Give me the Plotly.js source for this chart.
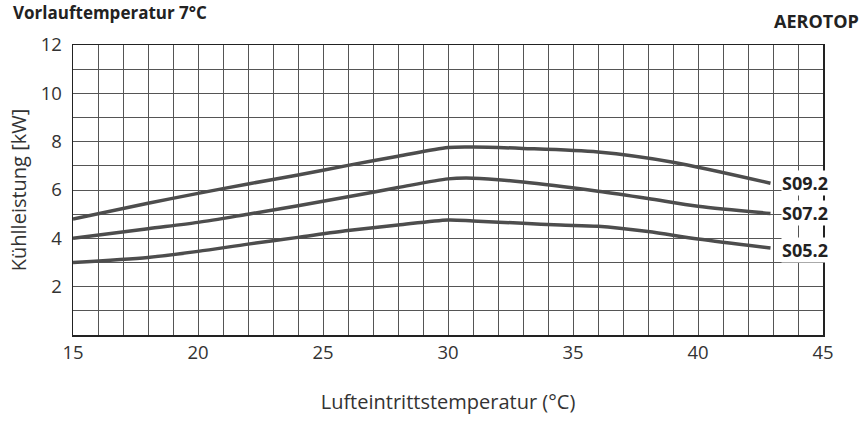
<!DOCTYPE html>
<html>
<head>
<meta charset="utf-8">
<script src="https://cdn.plot.ly/plotly-3.0.1.min.js"></script>
<style>html,body{margin:0;padding:0;background:#fff;}#chart{width:865px;height:422px;}</style>
</head>
<body>
<div id="chart"></div>
<script>
// Data
const tempS09 = [15, 18, 20, 22, 24, 26, 28, 30, 31, 33, 36, 39, 42.9];
const kwS09   = [4.8, 5.45, 5.86, 6.25, 6.62, 7.02, 7.4, 7.76, 7.78, 7.72, 7.57, 7.15, 6.28];
const tempS07 = [15, 18, 20, 22, 24, 26, 28, 30, 31, 33, 36, 38, 40, 42.9];
const kwS07   = [4.0, 4.4, 4.66, 5.0, 5.35, 5.72, 6.1, 6.46, 6.49, 6.33, 5.95, 5.65, 5.33, 5.03];
const tempS05 = [15, 18, 20, 22, 24, 26, 28, 30, 31, 33, 34.5, 36, 38, 40, 42.9];
const kwS05   = [3.0, 3.21, 3.46, 3.76, 4.04, 4.32, 4.55, 4.76, 4.72, 4.62, 4.55, 4.5, 4.28, 3.97, 3.6];
const seriesNames = ["S09.2", "S07.2", "S05.2"];
const labelY = [6.3, 5.05, 3.5];
const yTickVals = [2, 4, 6, 8, 10, 12];
const xTickVals = [15, 20, 25, 30, 35, 40, 45];

const FONT = "'Open Sans', Lato, sans-serif";
const lineColor = "#4d4d4d";
const gridColor = "#555555";

const mk = (x, y, name) => ({
  x: x, y: y, name: name, type: "scatter", mode: "lines",
  line: {color: lineColor, width: 3.5, shape: "spline", smoothing: 0.8},
  hoverinfo: "skip", showlegend: false
});

const traces = [
  mk(tempS09, kwS09, seriesNames[0]),
  mk(tempS07, kwS07, seriesNames[1]),
  mk(tempS05, kwS05, seriesNames[2])
];

const annotations = seriesNames.map((n, i) => ({
  x: 43.3, y: labelY[i], xref: "x", yref: "y", text: "<b>" + n + "</b>",
  showarrow: false, xanchor: "left", yanchor: "middle",
  font: {family: FONT, size: 18, color: "#222"},
  bgcolor: "#ffffff", borderpad: 0
}));
annotations.push({
  xref: "paper", yref: "paper", x: -0.083, y: 1.16, xanchor: "left", yanchor: "top",
  text: "<b>Vorlauftemperatur 7°C</b>", showarrow: false,
  font: {family: FONT, size: 17, color: "#222"}
});
annotations.push({
  xref: "paper", yref: "paper", x: 1.05, y: 1.083, xanchor: "right", yanchor: "middle",
  text: "<b>AEROTOP</b>", showarrow: false,
  font: {family: FONT, size: 18, color: "#222"}
});

const layout = {
  width: 865, height: 422,
  margin: {l: 73, r: 42, t: 45, b: 87},
  paper_bgcolor: "#fff", plot_bgcolor: "#fff",
  font: {family: FONT, color: "#333"},
  xaxis: {
    range: [15, 45], tickvals: xTickVals, ticks: "",
    showgrid: true, gridcolor: gridColor, gridwidth: 1,
    minor: {dtick: 1, tick0: 15, showgrid: true, gridcolor: gridColor, gridwidth: 1, ticks: ""},
    showline: true, linecolor: "#222", linewidth: 1.5, mirror: true, zeroline: false,
    tickfont: {family: FONT, size: 18.5, color: "#333"},
    title: {text: "Lufteintrittstemperatur (°C)", font: {family: FONT, size: 20, color: "#333"}, standoff: 32}
  },
  yaxis: {
    range: [0, 12], tickvals: yTickVals, ticks: "", ticklabelstandoff: 6,
    showgrid: true, gridcolor: gridColor, gridwidth: 1,
    minor: {dtick: 1, tick0: 0, showgrid: true, gridcolor: gridColor, gridwidth: 1, ticks: ""},
    showline: true, linecolor: "#222", linewidth: 1.5, mirror: true, zeroline: false,
    tickfont: {family: FONT, size: 18.5, color: "#333"},
    title: {text: "Kühlleistung [kW]", font: {family: FONT, size: 20, color: "#333"}, standoff: 8}
  },
  annotations: annotations
};

Plotly.newPlot("chart", traces, layout, {staticPlot: true, displayModeBar: false});
</script>
</body>
</html>
